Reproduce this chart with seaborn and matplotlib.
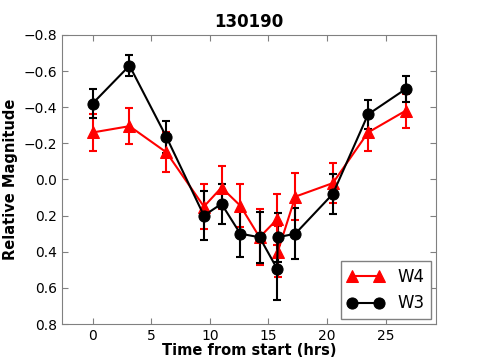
import pandas as pd
import seaborn as sns
import matplotlib
matplotlib.use("Agg")
import matplotlib.pyplot as plt

# Данные (время в часах, относительная звёздная величина)
time_w4 = [0.0, 3.15, 6.3, 9.5, 11.0, 12.6, 14.25, 15.75, 15.8, 17.3, 20.5, 23.5, 26.7]
mag_w4 = [-0.26, -0.295, -0.15, 0.15, 0.045, 0.145, 0.32, 0.22, 0.40, 0.095, 0.02, -0.26, -0.38]
err_w4 = [0.10, 0.10, 0.11, 0.125, 0.12, 0.12, 0.155, 0.14, 0.14, 0.13, 0.11, 0.10, 0.095]

time_w3 = [0.0, 3.15, 6.3, 9.5, 11.0, 12.6, 14.25, 15.75, 15.8, 17.3, 20.5, 23.5, 26.7]
mag_w3 = [-0.42, -0.63, -0.235, 0.20, 0.135, 0.30, 0.32, 0.495, 0.32, 0.30, 0.08, -0.36, -0.50]
err_w3 = [0.08, 0.06, 0.09, 0.135, 0.11, 0.13, 0.14, 0.17, 0.135, 0.14, 0.11, 0.08, 0.07]

df = pd.concat([
    pd.DataFrame({'time': time_w4, 'mag': mag_w4, 'err': err_w4, 'band': 'W4'}),
    pd.DataFrame({'time': time_w3, 'mag': mag_w3, 'err': err_w3, 'band': 'W3'}),
])

sns.set_style("ticks")
plt.rcParams['font.family'] = ['DejaVu Sans']
plt.rcParams['xtick.direction'] = 'in'
plt.rcParams['ytick.direction'] = 'in'
plt.rcParams['text.color'] = 'black'
plt.rcParams['axes.labelcolor'] = 'black'
plt.rcParams['xtick.labelcolor'] = 'black'
plt.rcParams['ytick.labelcolor'] = 'black'

fig = plt.figure(figsize=(4.85, 3.6), dpi=100)
ax = fig.add_axes([0.128, 0.10, 0.771, 0.803])

styles = {'W4': ('red', '^'), 'W3': ('black', 'o')}
for band in ['W4', 'W3']:
    d = df[df.band == band]
    color, marker = styles[band]
    ax.errorbar(d.time, d.mag, yerr=d.err, fmt='none', ecolor=color,
                elinewidth=1.5, capsize=3, capthick=1.5, zorder=2)
    sns.lineplot(data=d, x='time', y='mag', sort=False, estimator=None,
                 color=color, marker=marker, markersize=8, markeredgecolor=color,
                 linewidth=1.5, label=band, ax=ax, zorder=3)

ax.set_xlim(-2.6, 29.3)
ax.set_ylim(0.8, -0.8)
ax.set_xticks([0, 5, 10, 15, 20, 25])
ax.set_yticks([-0.8, -0.6, -0.4, -0.2, 0.0, 0.2, 0.4, 0.6, 0.8])
ax.tick_params(top=True, right=True, labelsize=10, length=4, color='gray')
for s in ax.spines.values():
    s.set_color('gray')

ax.set_title('130190', fontsize=12, fontweight='bold', color='black')
ax.set_xlabel('Time from start (hrs)', fontsize=10.5, fontweight='bold', labelpad=0)
ax.set_ylabel('Relative Magnitude', fontsize=10.5, fontweight='bold')

leg = ax.legend(loc='lower right', numpoints=2, fontsize=12, fancybox=False,
                framealpha=1, edgecolor='gray', handlelength=2.2, borderaxespad=0.3)

fig.savefig('out.png', dpi=100)
